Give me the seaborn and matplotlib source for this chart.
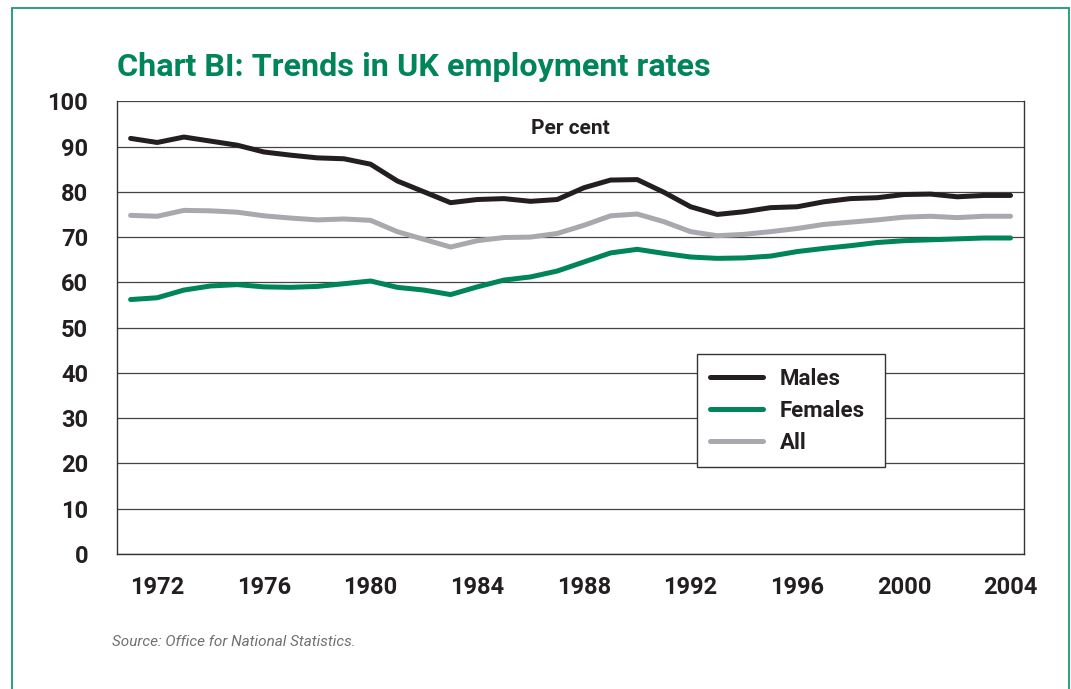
import pandas as pd
import matplotlib
matplotlib.use("Agg")
import matplotlib.pyplot as plt
import seaborn as sns
from matplotlib.patches import Rectangle

# Employment rates, per cent
years = list(range(1971, 2005))
males = [91.8, 90.9, 92.1, 91.2, 90.3, 88.8, 88.1, 87.5, 87.3, 86.1,
         82.4, 80.0, 77.6, 78.3, 78.5, 77.9, 78.3, 80.9, 82.6, 82.7,
         79.9, 76.7, 75.0, 75.6, 76.5, 76.7, 77.8, 78.5, 78.7, 79.4,
         79.5, 78.9, 79.2, 79.2]
females = [56.2, 56.6, 58.3, 59.2, 59.5, 59.0, 58.9, 59.1, 59.7, 60.3,
           58.9, 58.3, 57.3, 59.0, 60.5, 61.2, 62.5, 64.5, 66.5, 67.3,
           66.4, 65.6, 65.3, 65.4, 65.8, 66.8, 67.5, 68.1, 68.8, 69.2,
           69.4, 69.6, 69.8, 69.8]
all_people = [74.8, 74.6, 75.9, 75.8, 75.5, 74.7, 74.2, 73.8, 74.0, 73.7,
              71.2, 69.5, 67.8, 69.2, 69.9, 70.0, 70.8, 72.6, 74.7, 75.1,
              73.4, 71.2, 70.3, 70.6, 71.2, 71.9, 72.8, 73.3, 73.8, 74.4,
              74.6, 74.3, 74.6, 74.6]
series_names = ["Males", "Females", "All"]
series_colors = ["#231f20", "#00855a", "#a7a9ac"]

GREEN = "#00855a"
INK = "#231f20"

# Long-form table for seaborn
df = pd.DataFrame({
    "Year": years * 3,
    "Rate": males + females + all_people,
    "Group": [n for n in series_names for _ in years],
})

sns.set_style("white")
plt.rcParams["font.family"] = ["Roboto", "DejaVu Sans"]
plt.rcParams["font.weight"] = "bold"

fig = plt.figure(figsize=(10.71, 6.89), dpi=100)
ax = fig.add_axes([0.1095, 0.196, 0.8465, 0.657])

sns.lineplot(data=df, x="Year", y="Rate", hue="Group",
             palette=dict(zip(series_names, series_colors)),
             hue_order=series_names, linewidth=3.6, ax=ax, legend=False)

# Axes styling
ax.set_xlim(1970.5, 2004.5)
ax.set_ylim(0, 100)
ax.set_xlabel("")
ax.set_ylabel("")
ax.set_yticks(range(0, 101, 10), labels=[str(v) for v in range(0, 101, 10)],
              fontweight="bold")
ax.set_xticks(years, labels=[str(y) if (y - 1972) % 4 == 0 else "" for y in years],
              fontweight="bold")
ax.yaxis.grid(True, color="#444444", linewidth=0.9)
ax.set_axisbelow(True)
for side in ["left", "right", "bottom"]:
    ax.spines[side].set_color("#333333")
    ax.spines[side].set_linewidth(1.0)
ax.spines["top"].set_visible(False)
ax.tick_params(axis="y", length=17, width=0.9, color="#444444", pad=4,
               labelsize=17, labelcolor=INK)
ax.tick_params(axis="x", length=8, width=0.9, color="#444444", pad=8,
               labelsize=17, labelcolor=INK)

ax.text(0.5, 0.94, "Per cent", transform=ax.transAxes, ha="center", va="center",
        fontsize=15, fontweight="bold", color=INK)

# Legend
handles = [plt.Line2D([], [], color=c, linewidth=3.6, solid_capstyle="round")
           for c in series_colors]
leg = ax.legend(handles, series_names, loc="lower left",
                bbox_to_anchor=(0.639, 0.192, 0.208, 0.247), mode="expand",
                borderaxespad=0, frameon=True, fancybox=False, framealpha=1,
                borderpad=0.6, handlelength=2.4, handletextpad=0.75,
                labelspacing=0.45, prop={"weight": "bold", "size": 16})
leg.get_frame().set_edgecolor("#333333")
leg.get_frame().set_linewidth(1.0)
for t in leg.get_texts():
    t.set_color(INK)

# Title and source
fig.text(0.1095, 0.89, "Chart BI: Trends in UK employment rates", ha="left",
         va="baseline", fontsize=23.3, fontweight="bold", color=GREEN)
fig.text(0.105, 0.062, "Source: Office for National Statistics.", ha="left",
         va="baseline", fontsize=11, style="italic", fontweight="normal",
         color="#707070")

# Green frame around the panel (open at the bottom edge)
fig.patches.append(Rectangle((12 / 1071, -0.05), (1069 - 12) / 1071, 1.05 - 8 / 689,
                             transform=fig.transFigure, fill=False,
                             edgecolor="#1a9a6c", linewidth=1.3))

fig.savefig("out.png", dpi=100)
